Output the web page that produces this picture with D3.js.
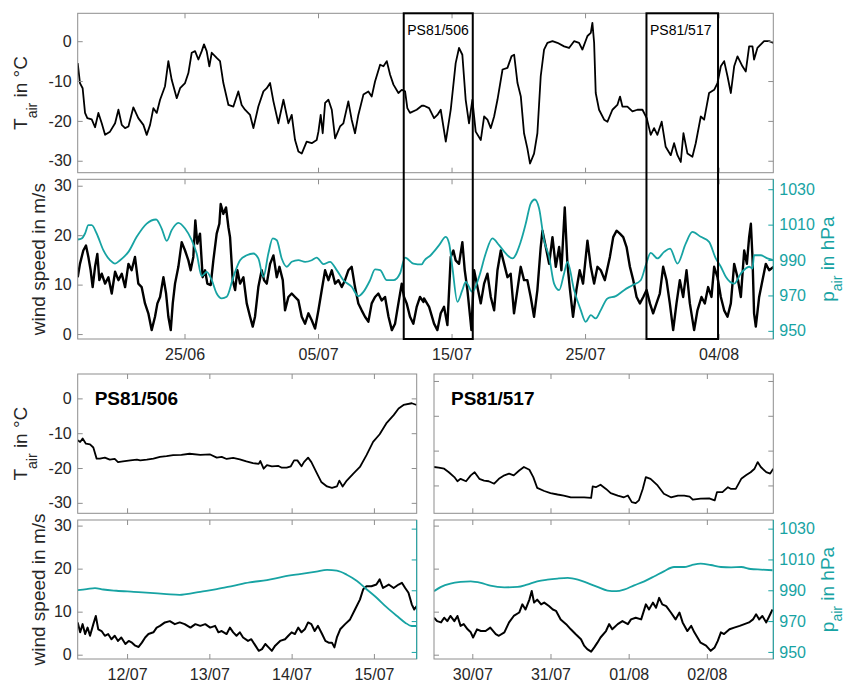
<!DOCTYPE html>
<html>
<head>
<meta charset="utf-8">
<script src="https://cdn.jsdelivr.net/npm/d3@7"></script>
<style>
body { margin: 0; background: #fff; }
svg { font-family: "Liberation Sans", Arial, Helvetica, sans-serif; }
</style>
</head>
<body>
<svg></svg>
<script>
// time axis: days since 17/06 00:00
const tairTop = [[0.00,-5.5],[0.17,-10.5],[0.37,-11.8],[0.55,-18],[0.72,-19.3],[1.05,-19.6],[1.30,-21.6],[1.55,-18],[1.80,-20.6],[2.05,-23.5],[2.42,-22.7],[2.80,-20.6],[3.05,-17.2],[3.30,-21],[3.55,-21.8],[3.80,-21.4],[4.17,-16.6],[4.54,-19.3],[4.92,-21],[5.17,-23.5],[5.42,-21],[5.67,-16.8],[5.92,-18],[6.17,-14.7],[6.54,-11.3],[6.79,-5],[7.04,-9.7],[7.42,-14.3],[7.67,-11.8],[8.04,-10.5],[8.29,-8],[8.54,-2.9],[8.79,-2.5],[9.04,-4.6],[9.29,-2.5],[9.46,-0.8],[9.66,-2.5],[9.86,-6.3],[10.04,-2.9],[10.41,-4.2],[10.66,-5],[10.91,-10.5],[11.29,-16],[11.66,-16.4],[12.03,-12.6],[12.28,-16],[12.53,-17.2],[12.91,-18.5],[13.16,-21.8],[13.53,-16.4],[13.91,-12.6],[14.16,-11.8],[14.41,-10.5],[14.66,-15.1],[15.03,-20.6],[15.41,-14.7],[15.78,-20.6],[16.03,-18.5],[16.28,-24.8],[16.53,-27.7],[16.78,-28.2],[17.15,-25.2],[17.53,-25.6],[17.90,-24.8],[18.03,-22.7],[18.20,-18.5],[18.35,-23.1],[18.53,-15.5],[18.78,-14.7],[19.03,-17.2],[19.28,-24.4],[19.65,-21.4],[19.90,-20.6],[20.27,-15.1],[20.52,-19.7],[20.77,-23.1],[21.02,-18.5],[21.40,-13.4],[21.77,-12.6],[22.02,-13.9],[22.27,-10.1],[22.65,-5.9],[22.90,-6.3],[23.15,-5],[23.40,-8.4],[23.65,-10.9],[24.02,-13],[24.27,-12.2],[24.52,-12.6],[24.69,-16.8],[24.89,-18],[25.39,-17.2],[25.77,-16.2],
  [25.94,-16.2],[26.32,-16.8],[26.69,-19.3],[26.94,-18.5],[27.19,-17.2],[27.57,-25.2],[27.94,-17.2],[28.31,-5.5],[28.56,-1.7],[28.81,-3.4],[29.06,-14.7],[29.31,-20.6],[29.56,-14.7],[29.81,-22.7],[30.19,-24.8],[30.44,-18.9],[30.69,-19.7],[30.94,-21.8],[31.19,-18.9],[31.44,-14.7],[31.82,-7.1],[32.19,-6.7],[32.49,-3.8],[32.69,-3.4],[32.94,-10.5],[33.19,-13.9],[33.43,-23.1],[33.68,-26.9],[33.88,-30.7],[34.18,-28.2],[34.43,-23.1],[34.68,-8.8],[34.93,-2.1],[35.18,-0.4],[35.56,0],[35.93,-0.4],[36.43,-1.3],[36.80,-1.7],[37.18,0],[37.55,-0.4],[37.80,-2.1],[38.18,1.3],[38.43,2.1],[38.55,4.6],[38.68,-0.4],[38.80,-13],[39.05,-17.2],[39.43,-19.7],[39.68,-20.2],[40.05,-17.2],[40.42,-16],[40.62,-13.9],[40.80,-16.4],[41.17,-16.4],[41.55,-17.6],[41.92,-17.2],[42.30,-17.2],[42.62,-19.3],[42.92,-23.5],[43.17,-21.8],[43.42,-23.5],[43.74,-20.2],[44.04,-26.5],[44.42,-28.6],[44.67,-25.6],[44.92,-28.6],[45.17,-30.3],[45.37,-23.1],[45.67,-28.2],[46.04,-29],[46.29,-25.6],[46.67,-18.9],[46.92,-19.7],[47.29,-13],[47.67,-12.2],[47.92,-10.5],[48.17,-6.3],[48.42,-5],[48.67,-8.8],[48.92,-13],[49.17,-6.3],[49.42,-3.8],[49.79,-6.3],[50.04,-7.6],[50.29,-1.3],[50.54,-1.3],[50.66,-4.6],[50.91,-1.7],[51.41,0],[51.79,0],[52.11,-0.4]];

const presTop = [[0,1001.6],[0.30,1002.2],[0.55,1005],[0.80,1009.7],[1.05,1009.7],[1.42,1005],[1.92,995.6],[2.42,989.9],[2.80,988],[3.17,989.9],[3.80,994.6],[4.42,1003.1],[5.17,1010.6],[5.87,1012.9],[6.29,1007.8],[6.67,1000.8],[7.04,1006.9],[7.54,1011],[8.04,1007.8],[8.54,1001.2],[8.91,993.7],[9.29,980.9],[9.66,983.3],[10.04,978.6],[10.41,971.1],[10.79,968.3],[11.16,969.2],[11.66,980.5],[12.16,989.9],[12.66,992.7],[13.16,993.7],[13.53,990.9],[13.91,980.5],[14.28,993.7],[14.61,1002.2],[14.91,1001.2],[15.28,990.9],[15.66,986.2],[16.03,989],[16.53,989.9],[17.03,989],[17.53,989.9],[17.90,991.4],[18.40,987.7],[18.90,989],[19.40,984.3],[19.90,978.6],[20.52,974.9],[21.02,969.6],[21.40,972],[21.90,978.6],[22.27,984.7],[22.65,984.3],[23.15,978.6],[23.65,978.6],[24.14,982.4],[24.52,991.4],[25.14,988],[25.77,987.5],
  [25.94,989.5],[26.44,992.7],[27.07,998.4],[27.57,1003.1],[27.82,999.3],[28.06,986.2],[28.44,966.4],[28.81,973],[29.06,977.7],[29.56,972],[30.06,980.5],[30.56,993.7],[31.06,1002.2],[31.56,998.4],[32.06,993.7],[32.56,990.9],[33.18,1000.3],[33.56,1010.6],[33.93,1021.9],[34.23,1024.2],[34.56,1019.1],[34.93,1001.2],[35.31,991.8],[35.68,976.7],[36.06,973],[36.43,982.4],[36.68,989],[37.18,973],[37.68,961.7],[38.05,955.1],[38.43,958.9],[38.80,957],[39.18,961.7],[39.68,968.3],[40.30,969.6],[40.92,973],[41.55,975.8],[42.17,978.6],[42.55,987.1],[42.92,994.1],[43.42,990.9],[43.92,994.6],[44.37,996.5],[44.92,988],[45.54,999.3],[46.04,1005.9],[46.67,1003.1],[47.29,1000.3],[47.79,990.9],[48.17,986.2],[48.54,980.5],[49.17,976.7],[49.67,982.4],[50.29,986.2],[50.54,985.2],[50.66,992.7],[51.16,992.7],[51.66,990.9],[52.11,989.9]];

const windTop = [[0,11.5],[0.17,14.2],[0.42,16.9],[0.62,17.9],[0.80,15.6],[0.97,12.9],[1.12,9.5],[1.30,13.6],[1.47,16.2],[1.62,10.9],[1.80,12.2],[2.05,10.2],[2.30,11.5],[2.55,8.2],[2.80,12.6],[3.05,10.9],[3.30,12.2],[3.55,9.5],[3.80,14.2],[4.04,12.9],[4.29,15.6],[4.54,10.2],[4.79,9.5],[5.04,6.2],[5.29,4.2],[5.54,0.8],[5.79,3.5],[5.97,6.2],[6.17,7.5],[6.42,11.5],[6.62,8.2],[6.79,3.5],[6.97,0.8],[7.12,6.2],[7.29,10.2],[7.54,13.6],[7.79,18.6],[8.04,16.9],[8.29,14.9],[8.46,12.9],[8.66,15.6],[8.81,23],[8.96,18.3],[9.16,20.3],[9.36,11.5],[9.54,12.9],[9.71,10.2],[9.96,9.9],[10.16,14.9],[10.41,20.3],[10.61,22.3],[10.71,26.3],[10.91,24.3],[11.11,25.6],[11.29,21.6],[11.41,19.6],[11.61,10.9],[11.79,8.9],[11.96,12.9],[12.16,10.2],[12.41,11.5],[12.66,6.2],[12.91,3.5],[13.11,1.5],[13.28,3.5],[13.53,9.5],[13.78,12.9],[13.96,10.9],[14.16,10.2],[14.41,14.2],[14.66,15.9],[14.91,11.5],[15.11,13.6],[15.36,10.9],[15.53,4.8],[15.78,7.5],[16.03,8.2],[16.28,7.5],[16.53,6.8],[16.78,3.5],[17.03,2.1],[17.28,4.2],[17.53,2.8],[17.78,1.1],[18.03,4.8],[18.28,8.9],[18.53,12.9],[18.78,10.9],[19.03,12.9],[19.28,10.2],[19.53,10.9],[19.78,9.5],[20.02,10.9],[20.27,12.9],[20.52,13.6],[20.77,9.5],[21.02,6.2],[21.27,4.8],[21.52,3.5],[21.77,2.5],[22.02,6.2],[22.27,7.5],[22.52,8.2],[22.77,6.8],[23.02,7.5],[23.28,3.5],[23.53,0.8],[23.77,2.1],[24.02,6.2],[24.27,10.2],[24.44,7.5],[24.64,6.2],[24.89,3.5],[25.14,2.1],[25.39,5.5],[25.64,7.5],[25.89,6.5],
  [25.94,7.2],[26.32,5.5],[26.69,2.1],[26.94,0.8],[27.19,4.2],[27.44,5.5],[27.69,1.8],[27.94,15.6],[28.14,16.9],[28.31,14.9],[28.56,14.2],[28.81,18.6],[28.99,12.9],[29.19,8.9],[29.39,3.5],[29.49,0.8],[29.69,12.9],[29.94,9.5],[30.19,6.2],[30.44,10.2],[30.69,12.2],[30.94,7.5],[31.19,4.8],[31.44,12.9],[31.69,16.9],[31.94,14.2],[32.19,11.5],[32.43,12.2],[32.68,4.2],[32.93,8.9],[33.18,13.6],[33.43,10.9],[33.68,10.9],[33.93,7.5],[34.18,3.5],[34.43,8.9],[34.68,17.6],[34.81,20.9],[35.06,17.6],[35.31,14.2],[35.56,19.6],[35.81,13.6],[36.06,17.6],[36.23,12.9],[36.48,25.6],[36.68,14.2],[36.85,9.5],[37.10,3.5],[37.35,8.9],[37.60,12.9],[37.85,10.2],[38.18,18.9],[38.43,13.6],[38.68,10.2],[38.93,13.6],[39.18,12.9],[39.48,10.9],[39.86,15.6],[40.11,19.6],[40.36,20.9],[40.61,20.3],[40.86,19.6],[41.11,17.6],[41.36,13.6],[41.61,10.9],[41.86,7.5],[42.11,6.2],[42.36,7.5],[42.61,8.9],[42.86,6.2],[43.10,4.2],[43.35,6.2],[43.60,8.2],[43.85,13.6],[44.10,10.9],[44.35,6.2],[44.60,0.8],[44.85,6.2],[45.10,10.9],[45.35,7.5],[45.60,12.9],[45.85,6.2],[46.17,0.8],[46.42,4.8],[46.72,7.5],[46.97,6.2],[47.22,9.5],[47.47,7.5],[47.67,13.6],[47.92,11.5],[48.17,7.5],[48.42,4.8],[48.67,3.5],[48.92,6.2],[49.17,14.2],[49.42,11.5],[49.67,7.5],[49.92,16.9],[50.12,14.2],[50.29,19.6],[50.42,22.3],[50.54,15.6],[50.66,4.2],[50.79,1.5],[51.04,7.5],[51.29,10.9],[51.54,14.2],[51.79,12.9],[52.11,13.6]];

const tair506 = [[24.40,-12.0],[24.43,-12.5],[24.46,-11.5],[24.50,-13],[24.55,-13.2],[24.59,-14.1],[24.63,-17.3],[24.67,-17.3],[24.73,-17],[24.79,-17.6],[24.85,-17.4],[24.89,-18.3],[24.95,-18.1],[25.04,-17.8],[25.12,-17.6],[25.16,-17.8],[25.24,-17.6],[25.32,-17.3],[25.40,-16.8],[25.48,-16.6],[25.56,-16.3],[25.66,-16.2],[25.76,-15.9],[25.89,-16.2],[26.01,-16.1],[26.09,-17],[26.15,-16.8],[26.21,-17.4],[26.29,-17.1],[26.37,-17.5],[26.45,-18.1],[26.53,-18.6],[26.60,-18.8],[26.62,-18],[26.66,-20.2],[26.70,-19.2],[26.76,-19.5],[26.84,-19.4],[26.88,-19.9],[26.94,-19.9],[26.99,-19.5],[27.03,-17.8],[27.07,-17.8],[27.12,-19.5],[27.15,-18.3],[27.20,-17],[27.24,-18.3],[27.30,-21.2],[27.36,-24],[27.43,-25.3],[27.49,-25.7],[27.55,-25.3],[27.58,-23.6],[27.62,-25.3],[27.67,-23.6],[27.75,-21.6],[27.83,-19.7],[27.91,-16.3],[27.99,-12.5],[28.07,-10.3],[28.15,-7.2],[28.24,-4.8],[28.30,-2.9],[28.36,-1.9],[28.46,-1.4],[28.52,-1.9]];

const pres506 = [[24.40,990.1],[24.51,990.7],[24.61,991.4],[24.71,990.5],[24.87,989.7],[25.08,989],[25.28,988.3],[25.48,987.5],[25.64,987],[25.72,987.5],[25.89,989],[26.09,990.7],[26.29,992.9],[26.49,995.1],[26.70,996.6],[26.90,998.8],[27.10,1000.5],[27.30,1002.1],[27.43,1003.2],[27.55,1002.7],[27.67,1000.1],[27.79,996.2],[27.91,990.7],[28.03,985.3],[28.15,979.2],[28.28,973.3],[28.38,969],[28.46,966.8],[28.52,966.8]];

const wind506 = [[24.40,7.5],[24.43,5.2],[24.46,7.1],[24.49,4.8],[24.52,6.3],[24.55,4.4],[24.59,7.1],[24.62,9],[24.65,5.9],[24.69,5.5],[24.73,4.4],[24.77,4.8],[24.81,3.6],[24.85,4.4],[24.89,3.2],[24.93,4],[24.98,2.5],[25.02,3.2],[25.06,2.8],[25.10,2.1],[25.14,1.8],[25.18,2.8],[25.22,4],[25.26,4.8],[25.32,5.2],[25.36,6.3],[25.40,6.7],[25.46,7.5],[25.52,7.8],[25.58,7.1],[25.64,7.5],[25.70,7.1],[25.77,6.3],[25.83,7.1],[25.89,6.7],[25.95,7.1],[26.01,6.3],[26.07,6.7],[26.11,5.2],[26.15,5.5],[26.21,4.8],[26.25,6.3],[26.29,5.2],[26.33,4.4],[26.37,5.2],[26.41,4],[26.47,3.2],[26.51,3.6],[26.56,2.1],[26.60,0.9],[26.64,1.3],[26.68,2.5],[26.72,1.7],[26.76,0.9],[26.80,2.1],[26.86,3.2],[26.92,3.6],[26.96,4.4],[27.00,5.2],[27.04,4.8],[27.08,6.3],[27.12,5.2],[27.16,5.9],[27.20,7.5],[27.24,7.1],[27.28,5.5],[27.32,6.7],[27.37,4.8],[27.41,3.2],[27.45,2.8],[27.49,2.8],[27.52,1.7],[27.55,4],[27.59,5.9],[27.65,7.1],[27.71,8.2],[27.77,10.5],[27.83,12.8],[27.87,15.2],[27.91,15.9],[27.97,15.9],[28.03,16.3],[28.07,17.5],[28.11,15.5],[28.18,16.3],[28.24,15.5],[28.30,16.3],[28.34,16.7],[28.38,15.5],[28.42,14.4],[28.46,11.7],[28.49,10.5],[28.52,11.3]];

const tair517 = [[42.51,-19.7],[42.57,-19.9],[42.64,-20.2],[42.70,-21.2],[42.77,-22.6],[42.81,-23.8],[42.85,-23.1],[42.92,-23.8],[42.98,-22.1],[43.03,-21.2],[43.09,-23.1],[43.15,-23.6],[43.21,-23.8],[43.28,-24.5],[43.34,-23.1],[43.41,-22.1],[43.47,-21.6],[43.53,-22.1],[43.60,-20.7],[43.66,-19.7],[43.73,-20.5],[43.78,-22.6],[43.83,-25.7],[43.92,-26.6],[44.00,-27.2],[44.09,-27.6],[44.17,-27.9],[44.26,-28.4],[44.35,-28.4],[44.43,-28.4],[44.52,-28.6],[44.54,-25.3],[44.58,-25.5],[44.64,-24.8],[44.71,-26],[44.77,-27.2],[44.86,-27.9],[44.94,-28.4],[44.99,-27.9],[45.04,-29.8],[45.09,-30.1],[45.13,-29.3],[45.18,-26],[45.22,-22.6],[45.28,-23.1],[45.37,-25],[45.45,-27.4],[45.54,-28.4],[45.63,-27.9],[45.71,-27.9],[45.78,-28.2],[45.82,-29.1],[45.92,-28.8],[46.03,-28.7],[46.10,-29.3],[46.13,-26.9],[46.20,-26.9],[46.27,-25.5],[46.31,-26],[46.37,-26],[46.44,-23.1],[46.50,-22.1],[46.56,-21.2],[46.61,-20.2],[46.65,-18.3],[46.69,-19.7],[46.76,-21.2],[46.81,-21.6],[46.85,-20.2]];

const pres517 = [[42.51,989.4],[42.60,992.2],[42.72,994.3],[42.85,995.4],[42.98,995.8],[43.11,994.8],[43.23,993],[43.41,991.9],[43.58,992.2],[43.70,993.7],[43.83,995.8],[43.96,996.9],[44.09,997.6],[44.22,998],[44.35,996.9],[44.47,994.8],[44.60,992.2],[44.73,989.8],[44.84,989.4],[44.94,990.4],[45.07,993.2],[45.20,995.8],[45.33,999.1],[45.45,1002.3],[45.58,1005.1],[45.71,1005.1],[45.80,1006.2],[45.92,1007.3],[46.05,1006.4],[46.18,1005.1],[46.31,1004.9],[46.44,1005.1],[46.56,1003.8],[46.69,1003.4],[46.84,1003]];

const wind517 = [[42.51,8.6],[42.55,7.8],[42.60,7.5],[42.64,8.6],[42.68,7.8],[42.72,9],[42.77,7.8],[42.81,9],[42.85,6.7],[42.89,7.1],[42.94,5.9],[42.98,5.2],[43.01,4],[43.06,5.9],[43.11,5.5],[43.17,5.5],[43.23,6.3],[43.30,4.8],[43.34,4.4],[43.41,5.2],[43.47,7.5],[43.53,9],[43.60,9.8],[43.64,11.7],[43.68,10.5],[43.73,12.8],[43.76,14.8],[43.79,12.1],[43.83,12.8],[43.88,11.7],[43.92,12.1],[43.98,11.3],[44.03,10.5],[44.07,10.2],[44.13,8.2],[44.20,7.1],[44.26,5.9],[44.32,4.8],[44.39,3.6],[44.43,2.1],[44.47,1.3],[44.52,0.7],[44.56,1.7],[44.60,2.8],[44.64,4],[44.71,5.5],[44.75,7.1],[44.79,5.9],[44.86,7.1],[44.92,7.8],[44.99,7.1],[45.03,8.2],[45.09,8.6],[45.16,8.2],[45.22,11.7],[45.26,10.5],[45.31,12.1],[45.35,10.9],[45.39,13.2],[45.43,11.7],[45.48,11.3],[45.54,9.8],[45.60,8.2],[45.65,9.8],[45.69,7.5],[45.75,5.5],[45.80,6.7],[45.84,5.2],[45.88,4],[45.92,2.8],[45.99,2.1],[46.05,0.9],[46.10,1.7],[46.14,3.2],[46.18,5.2],[46.22,4.8],[46.29,5.9],[46.35,6.3],[46.42,6.7],[46.48,7.1],[46.54,7.5],[46.59,8.2],[46.63,9.4],[46.67,8.2],[46.71,9],[46.76,7.5],[46.80,9],[46.84,10.5]];

// station boxes in the overview
const boxNames = ['PS81/506', 'PS81/517'];
const boxStart = [24.42, 42.6];
const boxEnd = [29.59, 47.96];

// ticks
const topTickDays = [8, 18, 28, 38, 48];
const tick506Days = [25, 26, 27, 28];
const tick517Days = [43, 44, 45, 46];
const tairTicks = [-30, -20, -10, 0];
const tair517Ticks = [-25, -15, -5, 5];
const windTicks = [0, 10, 20, 30];
const presTicks = [950, 970, 990, 1010, 1030];

const tairRange = [-33, 7];
const windRange = [-1, 31.3];
const presRange = [945.4, 1035.6];

const t0 = Date.UTC(2013, 5, 17);
const toDate = (d) => new Date(t0 + d * 864e5);
const fmt = d3.utcFormat('%d/%m');

const gray = '#8e8e8e';
const ink = '#262626';
const teal = '#17a3a3';

let svg = d3.select('svg').attr('width', 848).attr('height', 683);

let panel = (id, x0, x1, y0, y1, d0, d1) => {
    svg.append('clipPath').attr('id', id).append('rect')
        .attr('x', x0).attr('y', y0).attr('width', x1 - x0).attr('height', y1 - y0);
    return {
        id: id, x0: x0, x1: x1, y0: y0, y1: y1,
        x: d3.scaleTime().domain([toDate(d0), toDate(d1)]).range([x0, x1]),
        yTair: d3.scaleLinear().domain(tairRange).range([y1, y0]),
        yWind: d3.scaleLinear().domain(windRange).range([y1, y0]),
        yPres: d3.scaleLinear().domain(presRange).range([y1, y0])
    };
};

let tidy = (g, lineColor, textColor) => {
    g.attr('font-size', null).attr('font-family', null);
    g.select('.domain').remove();
    g.selectAll('.tick line').attr('stroke', lineColor);
    g.selectAll('.tick text').attr('fill', textColor).style('font-size', '16px');
};

let drawFrame = (p, rightColor) => {
    svg.append('rect')
        .attr('x', p.x0).attr('y', p.y0)
        .attr('width', p.x1 - p.x0).attr('height', p.y1 - p.y0)
        .attr('fill', 'none').attr('stroke', gray).attr('stroke-width', 1);
    if (rightColor) {
        svg.append('line')
            .attr('x1', p.x1).attr('x2', p.x1).attr('y1', p.y0).attr('y2', p.y1)
            .attr('stroke', rightColor).attr('stroke-width', 1);
    }
};

let drawX = (p, days, labels) => {
    let ticks = days.map(toDate);
    let bottom = d3.axisBottom(p.x).tickValues(ticks)
        .tickSizeInner(-5).tickSizeOuter(0).tickPadding(10)
        .tickFormat(labels ? fmt : () => '');
    svg.append('g').attr('transform', 'translate(0,' + p.y1 + ')').call(bottom).call(tidy, gray, ink);
    let top = d3.axisTop(p.x).tickValues(ticks)
        .tickSizeInner(-5).tickSizeOuter(0).tickFormat(() => '');
    svg.append('g').attr('transform', 'translate(0,' + p.y0 + ')').call(top).call(tidy, gray, ink);
};

let drawY = (p, y, ticks, side, labels, color, textColor) => {
    let axis = (side === 'left' ? d3.axisLeft(y) : d3.axisRight(y))
        .tickValues(ticks).tickSizeInner(-5).tickSizeOuter(0).tickPadding(6)
        .tickFormat(labels ? (d) => String(d) : () => '');
    svg.append('g')
        .attr('transform', 'translate(' + (side === 'left' ? p.x0 : p.x1) + ',0)')
        .call(axis).call(tidy, color, textColor);
};

let drawLine = (p, y, data, color, width, curve) => {
    svg.append('path')
        .datum(data)
        .attr('clip-path', 'url(#' + p.id + ')')
        .attr('fill', 'none')
        .attr('stroke', color)
        .attr('stroke-width', width)
        .attr('stroke-linejoin', 'round')
        .attr('d', d3.line().curve(curve || d3.curveLinear)
            .x((d) => p.x(toDate(d[0]))).y((d) => y(d[1])));
};

let yLabel = (x, y, main, sub, rest, color, subShift) => {
    let t = svg.append('text')
        .attr('transform', 'translate(' + x + ',' + y + ') rotate(-90)')
        .attr('text-anchor', 'middle')
        .attr('fill', color)
        .style('font-size', '19px');
    t.append('tspan').text(main);
    if (sub) {
        t.append('tspan').attr('dy', subShift).style('font-size', '14px').text(sub);
        t.append('tspan').attr('dy', -subShift).text(rest);
    }
};

// panels
let p1 = panel('c1', 77.7, 773.3, 13.3, 172.7, 0, 52.1);
let p2 = panel('c2', 77.7, 773.3, 179.3, 339, 0, 52.1);
let p3 = panel('c3', 77.7, 416.7, 374, 513.3, 24.4, 28.52);
let p4 = panel('c4', 434, 773.3, 374, 513.3, 42.51, 46.85);
let p5 = panel('c5', 77.7, 416.7, 520, 659, 24.4, 28.52);
let p6 = panel('c6', 434, 773.3, 520, 659, 42.51, 46.85);

// overview temperature
drawLine(p1, p1.yTair, tairTop, '#000', 1.8);
drawFrame(p1);
drawX(p1, topTickDays, false);
drawY(p1, p1.yTair, tairTicks, 'left', true, gray, ink);
drawY(p1, p1.yTair, tairTicks, 'right', false, gray, ink);

// overview wind + pressure
drawLine(p2, p2.yWind, windTop, '#000', 2.4);
drawLine(p2, p2.yPres, presTop, teal, 1.8, d3.curveMonotoneX);
drawFrame(p2, teal);
drawX(p2, topTickDays, true);
drawY(p2, p2.yWind, windTicks, 'left', true, gray, ink);
drawY(p2, p2.yPres, presTicks, 'right', true, teal, teal);

// station boxes
boxStart.forEach((s, i) => {
    let bx0 = p1.x(toDate(s));
    let bx1 = p1.x(toDate(boxEnd[i]));
    svg.append('rect')
        .attr('x', bx0).attr('y', p1.y0)
        .attr('width', bx1 - bx0).attr('height', p2.y1 - p1.y0)
        .attr('fill', 'none').attr('stroke', '#000').attr('stroke-width', 2);
    svg.append('text')
        .attr('x', bx0 + 3.5).attr('y', 35)
        .attr('fill', '#000').style('font-size', '14px')
        .text(boxNames[i]);
});

// PS81/506 detail
drawLine(p3, p3.yTair, tair506, '#000', 1.8);
drawFrame(p3);
drawX(p3, tick506Days, false);
drawY(p3, p3.yTair, tairTicks, 'left', true, gray, ink);
drawY(p3, p3.yTair, tairTicks, 'right', false, gray, ink);

drawLine(p5, p5.yWind, wind506, '#000', 2);
drawLine(p5, p5.yPres, pres506, teal, 1.8, d3.curveMonotoneX);
drawFrame(p5, teal);
drawX(p5, tick506Days, true);
drawY(p5, p5.yWind, windTicks, 'left', true, gray, ink);
drawY(p5, p5.yPres, presTicks, 'right', false, teal, teal);

// PS81/517 detail
drawLine(p4, p4.yTair, tair517, '#000', 1.8);
drawFrame(p4);
drawX(p4, tick517Days, false);
drawY(p4, p4.yTair, tair517Ticks, 'left', false, gray, ink);
drawY(p4, p4.yTair, tair517Ticks, 'right', false, gray, ink);

drawLine(p6, p6.yWind, wind517, '#000', 2);
drawLine(p6, p6.yPres, pres517, teal, 1.8, d3.curveMonotoneX);
drawFrame(p6, teal);
drawX(p6, tick517Days, true);
drawY(p6, p6.yWind, windTicks, 'left', false, gray, ink);
drawY(p6, p6.yPres, presTicks, 'right', true, teal, teal);

// titles of the detail panels
svg.append('text').attr('x', p3.x0 + 17).attr('y', 405)
    .style('font-size', '19px').style('font-weight', 'bold').attr('fill', '#000').text(boxNames[0]);
svg.append('text').attr('x', p4.x0 + 17).attr('y', 405)
    .style('font-size', '19px').style('font-weight', 'bold').attr('fill', '#000').text(boxNames[1]);

// axis labels
yLabel(27, (p1.y0 + p1.y1) / 2, 'T', 'air', ' in °C', ink, 10);
yLabel(27, (p3.y0 + p3.y1) / 2, 'T', 'air', ' in °C', ink, 10);
yLabel(45, (p2.y0 + p2.y1) / 2, 'wind speed in m/s', null, null, ink, 0);
yLabel(45, (p5.y0 + p5.y1) / 2, 'wind speed in m/s', null, null, ink, 0);
yLabel(834, (p2.y0 + p2.y1) / 2, 'p', 'air', ' in hPa', teal, 8);
yLabel(834, (p6.y0 + p6.y1) / 2, 'p', 'air', ' in hPa', teal, 8);
</script>
</body>
</html>
